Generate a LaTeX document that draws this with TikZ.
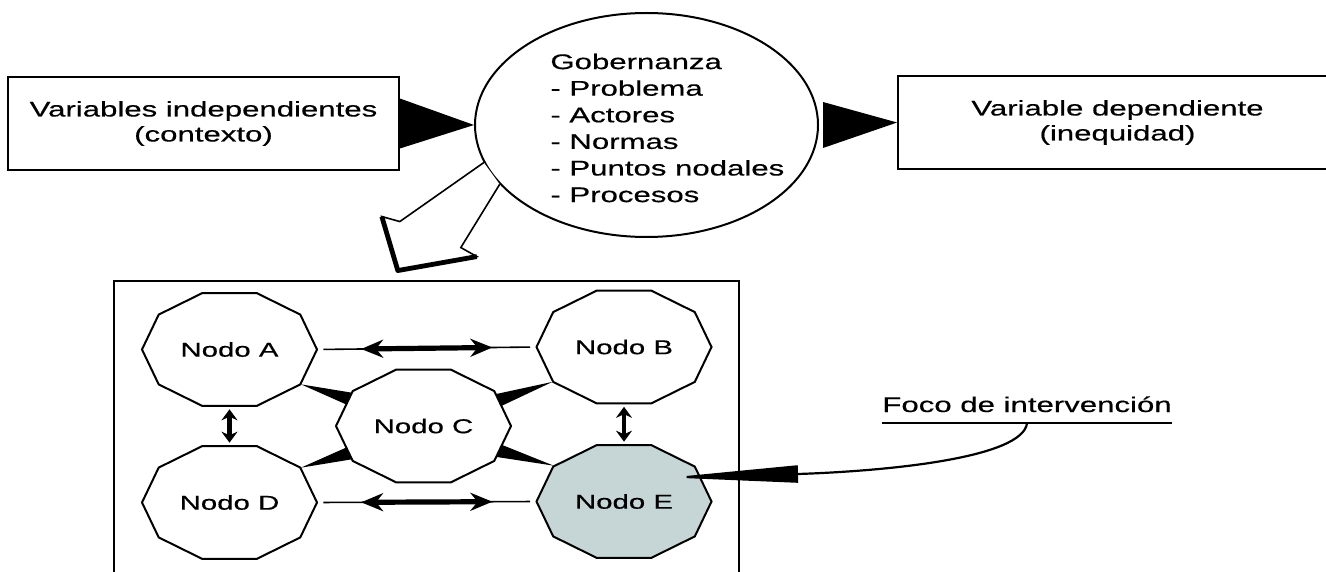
\documentclass[tikz,border=0pt]{standalone}
\usepackage{fontspec}
\setmainfont{Liberation Sans}[FakeStretch=1.47, FakeBold=0.4]
\usepackage{xcolor}
\usepackage{tikz}
\definecolor{FocoGris}{RGB}{198,214,214}
\usetikzlibrary{shapes.geometric,arrows.meta,calc,backgrounds}
\tikzset{
    caja/.style={draw, line width=0.9pt, inner sep=0pt, align=center, font=\fontsize{10.6pt}{12.5pt}\selectfont},
    nodo/.style={ellipse, inner sep=0pt, minimum width=87.5pt, minimum height=59.4pt, font=\fontsize{10pt}{12pt}\selectfont},
    borde/.style={line width=1pt},
    fina/.style={line width=0.8pt},
    gruesa/.style={line width=2.6pt, {Stealth[length=11pt,width=9pt]}-{Stealth[length=11pt,width=9pt]}},
    corta/.style={line width=2.4pt, {Stealth[length=5.5pt,width=8pt]}-{Stealth[length=5.5pt,width=8pt]}}
}

\begin{document}
\begin{tikzpicture}[x=0.5pt, y=-0.5pt]
        \useasboundingbox (0,0) rectangle (1326,572);

        % Draw the top row
        \node[caja, minimum width=195.5pt, minimum height=46.5pt] (vi) at (203.5,123.5) {Variables independientes\\(contexto)};
        \node[ellipse, draw, borde, minimum width=171.5pt, minimum height=112pt, inner sep=0pt] (gob) at (646.5,125) {};
        \node[anchor=west, align=left, inner sep=0pt, font=\fontsize{10.6pt}{13.3pt}\selectfont] (gobtxt) at (550,128) {Gobernanza\\- Problema\\- Actores\\- Normas\\- Puntos nodales\\- Procesos};
        \node[caja, minimum width=219.5pt, minimum height=46.5pt] (vd) at (1117.5,122.5) {Variable dependiente\\(inequidad)};

        % big arrow heads between the boxes
        \fill ($(vi.east)+(0,-25)$) -- (gob.west) -- ($(vi.east)+(0,25)$) -- cycle;
        \fill ($(gob.east)+(4,-23)$) -- (vd.west) -- ($(gob.east)+(4,23)$) -- cycle;

        % Draw the network frame
        \node[draw, borde, minimum width=312.5pt, minimum height=160pt, inner sep=0pt, anchor=north west] (red) at (113,280) {};

        % hollow arrow down to the network
        \draw[fina, fill=white] (gob.193.7) -- ++(-84,59) -- ++(-18,-5) coordinate (ala1) -- ++(16,54) coordinate (punta) -- ++(79,-14) coordinate (ala2) -- ++(-16,-9) -- (gob.202.7);
        \draw[line width=2.4pt, line join=round] (ala1) -- (punta) -- (ala2);

        % Draw the nodes
        \node[nodo] (A) at (229.5,349.5) {Nodo A};
        \node[nodo] (B) at (624,347) {Nodo B};
        \node[nodo] (C) at (423.5,426) {Nodo C};
        \node[nodo] (D) at (229.5,502.5) {Nodo D};
        \node[nodo] (E) at (624,501.5) {Nodo E};

        \begin{scope}[on background layer]
            % wedges into C
            \foreach \v/\c in {A.-26.2/C.160, B.206.2/C.19.2, D.26.2/C.-160, E.153.8/C.-18.8}{
                \coordinate (base) at ($(\c)!-3pt!(\v)$);
                \fill ($(base)!3.4pt!90:(\v)$) -- (\v) -- ($(base)!3.4pt!-90:(\v)$) -- cycle;
            }
            % the decagons
            \foreach \n/\col in {A/white, B/white, C/white, D/white, E/FocoGris}{
                \draw[borde, fill=\col, shift={(\n)}] (0:87.5 and 59.4) \foreach \k in {1,...,9}{ -- ({\k*36}:87.5 and 59.4)} -- cycle;
            }
        \end{scope}

        % double arrows
        \foreach \a/\b in {A/B, D/E}{
            \draw[fina, shorten <=3pt, shorten >=3pt] (\a.east) -- (\b.west);
            \draw[gruesa] ($(\a.east)!0.2!(\b.west)$) -- ($(\a.east)!0.8!(\b.west)$);
        }
        \foreach \a/\b in {A/D, B/E}{
            \draw[corta] (\a.south) -- (\b.north);
        }

        % focus label
        \node[anchor=base west, inner sep=0pt, font=\fontsize{10.6pt}{12pt}\selectfont] (foco) at (882,412) {Foco de intervención};
        \coordinate (focoE) at ($(E)+(46,-24)$);
        \draw[borde] ($(foco.base west)+(0,11)$) -- ($(foco.base east)+(0,11)$);
        \draw[line width=1.1pt, -{Triangle[length=64pt, width=8.5pt]}] ($(foco.base)+(0,11)$) .. controls +(-4,35) and +(90,-3) .. ++(-229,51) -- (focoE);
\end{tikzpicture}
\end{document}
